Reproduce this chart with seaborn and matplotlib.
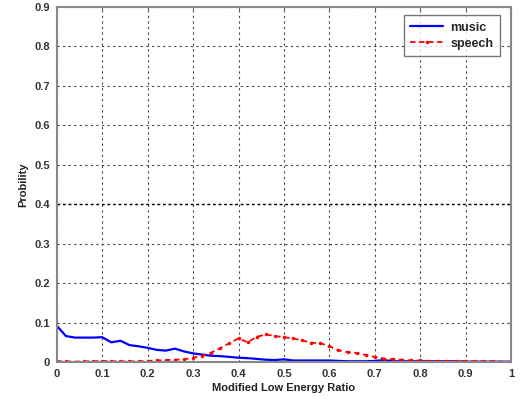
import numpy as np
import pandas as pd
import matplotlib
matplotlib.use('Agg')
import matplotlib.pyplot as plt
import seaborn as sns

# probability vs modified low energy ratio
ratio = np.linspace(0, 1, 51)
music = [0.092, 0.066, 0.062, 0.062, 0.062, 0.063, 0.050, 0.054, 0.043, 0.040,
         0.036, 0.031, 0.029, 0.034, 0.027, 0.022, 0.019, 0.016, 0.015, 0.013,
         0.011, 0.010, 0.008, 0.006, 0.005, 0.007, 0.004, 0.004, 0.004, 0.004,
         0.004, 0.003, 0.002, 0.002, 0.002, 0.003, 0.005, 0.002, 0.002, 0.002,
         0.002, 0.002, 0.002, 0.002, 0.002, 0.001, 0.001, 0.001, 0.001, 0.001,
         0.001]
speech = [0.002, 0.002, 0.001, 0.002, 0.002, 0.003, 0.002, 0.002, 0.002, 0.002,
          0.003, 0.004, 0.005, 0.006, 0.007, 0.011, 0.016, 0.024, 0.035, 0.048,
          0.060, 0.050, 0.064, 0.070, 0.066, 0.063, 0.060, 0.055, 0.049, 0.048,
          0.040, 0.030, 0.025, 0.023, 0.018, 0.013, 0.009, 0.007, 0.006, 0.004,
          0.004, 0.003, 0.003, 0.003, 0.003, 0.003, 0.002, 0.002, 0.002, 0.001,
          0.001]

df = pd.DataFrame({'ratio': ratio, 'music': music, 'speech': speech})

sns.set_style('white')
plt.rcParams['font.family'] = ['Liberation Sans', 'DejaVu Sans']

fig = plt.figure(figsize=(5.21, 4.05), dpi=100)
ax = fig.add_axes([0.109, 0.106, 0.872, 0.877])

sns.lineplot(data=df, x='ratio', y='music', ax=ax, color='blue', lw=1.6, label='music')
sns.lineplot(data=df, x='ratio', y='speech', ax=ax, color='red', lw=1.3,
             linestyle=(0, (3, 2)), marker='o', markersize=2.5, markeredgewidth=0,
             label='speech')

ax.set_xlim(0, 1)
ax.set_ylim(0, 0.9)
ax.set_xticks(np.arange(0, 1.01, 0.1))
ax.set_yticks(np.arange(0, 0.91, 0.1))
ax.set_xticklabels(['0', '0.1', '0.2', '0.3', '0.4', '0.5', '0.6', '0.7', '0.8', '0.9', '1'])
ax.set_yticklabels(['0', '0.1', '0.2', '0.3', '0.4', '0.5', '0.6', '0.7', '0.8', '0.9'])
ax.grid(True, color='#444444', linestyle=(0, (2, 3)), lw=0.8)
ax.axhline(0.4, color='black', linestyle=(0, (2, 2)), lw=1.0, zorder=1)

for s in ax.spines.values():
    s.set_color('#888888')
    s.set_linewidth(1.5)
ax.tick_params(direction='in', length=3, color='#666666', labelsize=8,
               labelcolor='#333333', top=True, right=True, pad=5)
for lab in ax.get_xticklabels() + ax.get_yticklabels():
    lab.set_fontweight('bold')

ax.set_xlabel('Modified Low Energy Ratio', fontsize=8, fontweight='bold', color='#222222', labelpad=3)
ax.set_ylabel('Probility', fontsize=8, fontweight='bold', color='#222222', labelpad=4)

leg = ax.legend(loc='upper right', fontsize=9, frameon=True, fancybox=False,
                borderaxespad=0.5, handlelength=2.6, handletextpad=0.6,
                borderpad=0.55, labelspacing=0.3, bbox_to_anchor=(0.99, 0.995))
leg.get_frame().set_edgecolor('#555555')
leg.get_frame().set_linewidth(1.0)
for t in leg.get_texts():
    t.set_fontweight('bold')

fig.savefig('out.png', dpi=100)
